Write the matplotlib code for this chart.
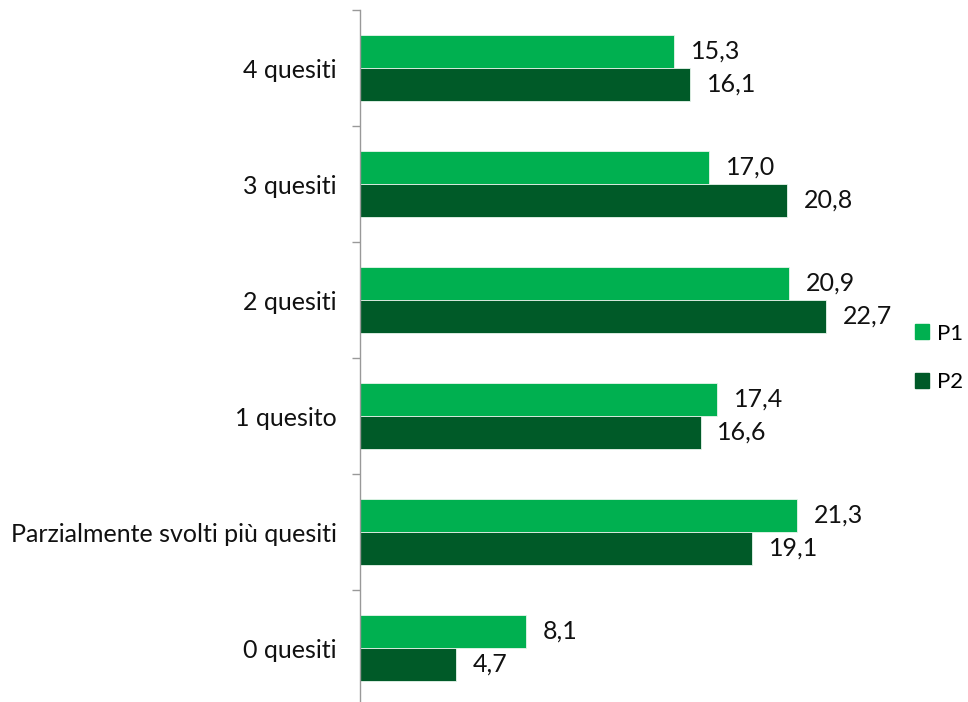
import numpy as np
import matplotlib.pyplot as plt
from matplotlib.patches import Patch

categories = ['0 quesiti', 'Parzialmente svolti più quesiti', '1 quesito',
              '2 quesiti', '3 quesiti', '4 quesiti']
p1 = [8.1, 21.3, 17.4, 20.9, 17.0, 15.3]
p2 = [4.7, 19.1, 16.6, 22.7, 20.8, 16.1]

c1 = '#00B050'
c2 = '#005A28'

plt.rcParams['font.family'] = ['Lato', 'DejaVu Sans']
fs = 18

fig = plt.figure(figsize=(9.68, 7.02), dpi=100)
# axes placed in pixel terms: left edge at x=360, top at y=10
ax = fig.add_axes([360 / 968, -4 / 702, 513 / 968, 696 / 702])

y = np.arange(len(categories))
h = 0.284
b1 = ax.barh(y + h / 2, p1, height=h, color=c1, edgecolor='#e8f5ec', linewidth=0.6)
b2 = ax.barh(y - h / 2, p2, height=h, color=c2, edgecolor='#e8f5ec', linewidth=0.6)

for bars, vals in ((b1, p1), (b2, p2)):
    for bar, v in zip(bars, vals):
        ax.annotate(f'{v:.1f}'.replace('.', ','),
                    (bar.get_width(), bar.get_y() + bar.get_height() / 2),
                    xytext=(12, 0), textcoords='offset points',
                    va='center', ha='left', fontsize=fs, color='#111111')

ax.set_xlim(0, 25)
ax.set_ylim(-0.5, len(categories) - 0.5)
ax.set_yticks(np.arange(len(categories) + 1) - 0.5)
ax.set_yticklabels([])
ax.set_yticks(y, minor=True)
ax.set_yticklabels(categories, minor=True, fontsize=fs, color='#111111')
ax.tick_params(axis='y', which='major', length=6, color='#999999', width=1)
ax.tick_params(axis='y', which='minor', length=0, pad=17)
ax.set_xticks([])
for s in ('top', 'right', 'bottom'):
    ax.spines[s].set_visible(False)
ax.spines['left'].set_color('#999999')
ax.spines['left'].set_linewidth(1)

handles = [Patch(color=c1, label='P1'), Patch(color=c2, label='P2')]
fig.legend(handles=handles, loc='center left', bbox_to_anchor=(915 / 968, 1 - 358 / 702),
           frameon=False, fontsize=16, handlelength=0.65, handleheight=0.65,
           handletextpad=0.35, labelspacing=1.3, borderpad=0, borderaxespad=0)

fig.savefig('out.png', dpi=100)
